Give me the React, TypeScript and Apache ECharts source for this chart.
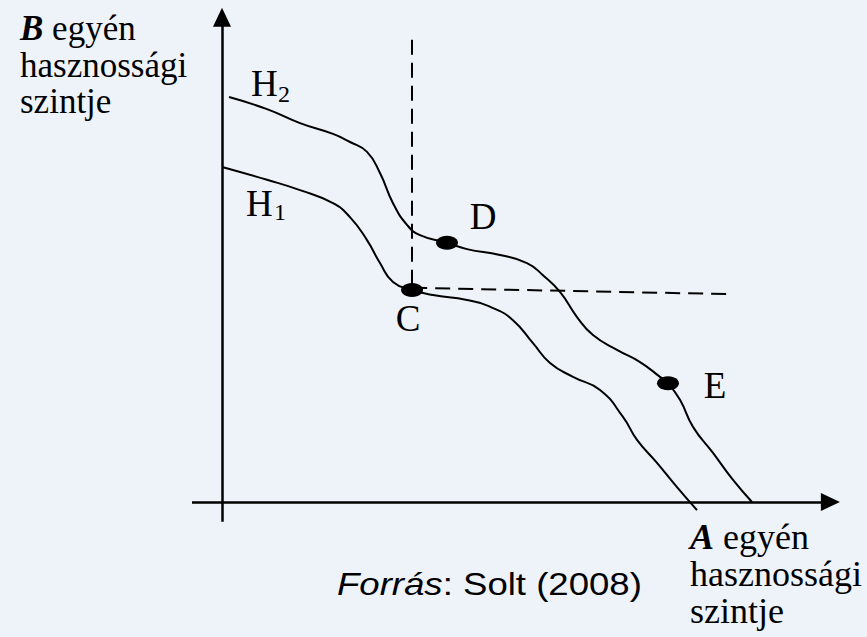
import React, { useEffect, useRef } from "react";
import * as echarts from "echarts";

// Curve H2 (higher utility frontier) points [A utility, B utility]
const h2X = [0.117, 0.75, 1.3, 1.85, 2.133, 2.417, 2.633, 2.85, 3.083, 3.3, 3.75, 4.083, 4.633, 5.083, 5.35, 5.633, 5.917, 6.183, 6.583, 6.967, 7.3, 7.433, 7.633, 7.85, 8.183, 8.517, 8.833];
const h2Y = [9.0, 8.73, 8.42, 8.18, 8.0, 7.78, 7.31, 6.64, 6.16, 5.93, 5.76, 5.62, 5.49, 5.31, 5.04, 4.67, 4.11, 3.71, 3.38, 3.11, 2.78, 2.64, 2.27, 1.67, 1.09, 0.49, 0.0];
// Curve H1 (lower utility frontier)
const h1X = [0.017, 0.75, 1.3, 1.85, 2.133, 2.417, 2.633, 2.85, 3.167, 3.517, 4.083, 4.517, 4.85, 5.183, 5.467, 5.85, 6.3, 6.683, 6.917, 7.25, 7.583, 7.917];
const h1Y = [7.44, 7.16, 6.93, 6.64, 6.33, 5.82, 5.31, 4.89, 4.71, 4.6, 4.49, 4.31, 4.04, 3.53, 3.09, 2.78, 2.49, 1.89, 1.38, 0.87, 0.33, -0.18];
// Marked points
const pointNames = ["C", "D", "E"];
const pointX = [3.167, 3.75, 7.433];
const pointY = [4.71, 5.76, 2.64];
// Dashed guide lines from C
const vGuide = [[3.17, 10.27], [3.17, 4.71]];
const hGuide = [[3.17, 4.76], [8.42, 4.62]];
// Axis lines (with arrow heads)
const xAxisLine = [[-0.5, 0], [10.14, 0]];
const yAxisLine = [[0, -0.44], [0, 10.77]];

const serif = "'Liberation Serif', 'Times New Roman', serif";
const sans = "'Liberation Sans', Arial, sans-serif";

export default function App() {
  const ref = useRef<HTMLDivElement>(null);
  useEffect(() => {
    if (!ref.current) return;
    const chart = echarts.init(ref.current, undefined, { renderer: "svg" });
    const zip = (xs: number[], ys: number[]) => xs.map((x, i) => [x, ys[i]]);
    const labelOffsets: Record<string, number[]> = { C: [-4, 28], D: [36, -26], E: [47, 2] };
    const txt = (x: number, y: number, text: string, fontSize: number, family: string, extra: any = {}) => ({
      type: "text",
      x,
      y,
      silent: true,
      ...extra,
      style: {
        text,
        fontSize,
        fontFamily: family,
        fill: "#000",
        align: "left",
        verticalAlign: "middle",
        ...(extra.style || {}),
      },
    });
    const boldItalic = (fs: number) => ({ fontStyle: "italic", fontWeight: "bold", fontSize: fs, fontFamily: serif, fill: "#000" });
    chart.setOption({
      animation: false,
      backgroundColor: "#eef3f9",
      grid: { left: 0, right: 0, top: 0, bottom: 0 },
      xAxis: { type: "value", min: -3.7, max: 10.75, show: false },
      yAxis: { type: "value", min: -3, max: 11.1556, show: false },
      series: [
        {
          name: "axes",
          type: "line",
          data: [[0, 0]],
          showSymbol: false,
          lineStyle: { opacity: 0 },
          silent: true,
          markLine: {
            silent: true,
            symbol: ["none", "triangle"],
            symbolSize: [18, 19],
            label: { show: false },
            lineStyle: { color: "#000", width: 2.5, type: "solid", opacity: 1 },
            itemStyle: { color: "#000", opacity: 1 },
            emphasis: { disabled: true },
            data: [
              [{ coord: xAxisLine[0] }, { coord: xAxisLine[1] }],
              [{ coord: yAxisLine[0] }, { coord: yAxisLine[1] }],
            ],
          },
        },
        {
          name: "guides",
          type: "line",
          data: [[0, 0]],
          showSymbol: false,
          lineStyle: { opacity: 0 },
          silent: true,
          markLine: {
            silent: true,
            symbol: ["none", "none"],
            label: { show: false },
            lineStyle: { color: "#000", width: 2, type: [15, 8], opacity: 1 },
            emphasis: { disabled: true },
            data: [
              [{ coord: vGuide[0] }, { coord: vGuide[1] }],
              [{ coord: hGuide[0] }, { coord: hGuide[1] }],
            ],
          },
        },
        {
          name: "H2",
          type: "line",
          data: zip(h2X, h2Y),
          smooth: 0.5,
          showSymbol: false,
          silent: true,
          lineStyle: { color: "#000", width: 2 },
        },
        {
          name: "H1",
          type: "line",
          data: zip(h1X, h1Y),
          smooth: 0.5,
          showSymbol: false,
          silent: true,
          lineStyle: { color: "#000", width: 2 },
        },
        {
          name: "points",
          type: "scatter",
          symbol: "circle",
          symbolSize: [22, 14],
          itemStyle: { color: "#000", opacity: 1 },
          silent: true,
          z: 5,
          label: {
            show: true,
            position: "inside",
            formatter: "{b}",
            color: "#000",
            opacity: 1,
            fontSize: 37,
            fontFamily: serif,
          },
          data: pointNames.map((n, i) => ({
            name: n,
            value: [pointX[i], pointY[i]],
            label: { offset: labelOffsets[n] },
          })),
        },
      ],
      graphic: [
        txt(251, 83, "H", 37, serif),
        txt(278, 94, "2", 24, serif),
        txt(246, 203, "H", 37, serif),
        txt(274, 212, "1", 24, serif),
        txt(20, 28.5, "{b|B} egyén", 35, serif, { style: { rich: { b: boldItalic(35) } } }),
        txt(20, 65, "hasznossági", 35, serif),
        txt(20, 101, "szintje", 35, serif),
        txt(690, 536.5, "{b|A} egyén", 36, serif, { style: { rich: { b: boldItalic(36) } } }),
        txt(690, 574, "hasznossági", 36, serif),
        txt(690, 611, "szintje", 36, serif),
        txt(337, 584, "{i|Forrás}: Solt (2008)", 31, sans, {
          scaleX: 1.18,
          style: { rich: { i: { fontStyle: "italic", fontSize: 31, fontFamily: sans, fill: "#000" } } },
        }),
      ],
    });
    return () => chart.dispose();
  }, []);
  return <div ref={ref} style={{ position: "absolute", left: 0, top: 0, width: 867, height: 637 }} />;
}
